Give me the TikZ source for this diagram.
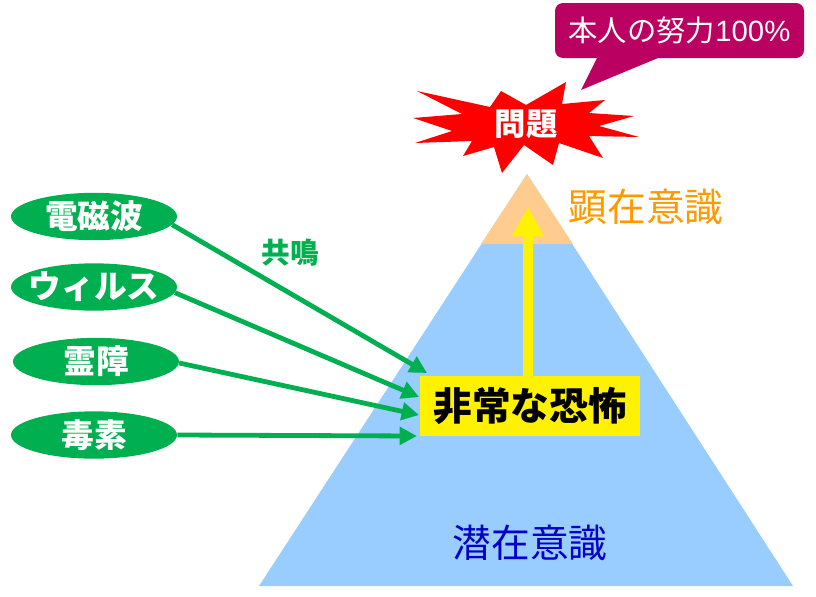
\documentclass[tikz,border=0pt]{standalone}
\usepackage{fontspec}
\setmainfont{Noto Sans CJK JP}
\newfontfamily\latinfont{Liberation Sans}
\usetikzlibrary{arrows.meta, shapes.geometric}

\definecolor{leaf}{HTML}{00B050}
\definecolor{plum}{HTML}{BA0060}
\definecolor{sky}{HTML}{99CCFF}
\definecolor{peach}{HTML}{FFCC8F}
\definecolor{amber}{HTML}{FF9900}
\definecolor{navy}{HTML}{0000C8}

\tikzset{
	cause/.style={ellipse, fill=leaf, text=white, inner sep=-12pt, minimum width=124.5pt, minimum height=35.5pt, font=\fontsize{24.5}{24.5}\selectfont\bfseries},
	link/.style={draw=leaf, line width=3.6pt, -{Triangle[length=13pt, width=13pt]}},
	layer/.style={inner sep=0pt, font=\fontsize{29}{29}\selectfont}
}

\begin{document}
\begin{tikzpicture}[x=0.75pt, y=-0.75pt]
	\useasboundingbox (0, 0) rectangle (816, 596);

	% pyramid
	\fill[sky] (527, 174) -- (793, 586) -- (259, 586) -- cycle;
	\fill[peach] (527, 174) -- (573, 244) -- (481, 244) -- cycle;

	% yellow box and arrow
	\node[fill=yellow, minimum width=165pt, minimum height=45pt, inner sep=0pt, font=\fontsize{29}{29}\selectfont\bfseries] (fear) at (530, 406) {非常な恐怖};
	\coordinate (riseStart) at (528, 376);
	\coordinate (riseEnd) at (528, 207);
	\draw[draw=yellow, line width=7.5pt, -{Triangle[length=22pt, width=22.5pt]}] (riseStart) -- (riseEnd);

	% burst
	\fill[red] (417, 91) -- (490, 107) -- (501, 91) -- (526, 105) -- (566, 82) -- (562, 104)
		-- (605, 100) -- (589, 113) -- (634, 116) -- (599, 126) -- (639, 137) -- (589, 136)
		-- (603, 158) -- (559, 143) -- (553, 165) -- (524, 145) -- (502, 173) -- (494, 147)
		-- (463, 156) -- (472, 141) -- (415, 143) -- (452, 131) -- (413, 118) -- (462, 114) -- cycle;
	\node[inner sep=0pt, text=white, font=\fontsize{23.5}{23.5}\selectfont\bfseries] (problem) at (526, 124) {問題};

	% callout
	\fill[plum] (597, 58) -- (581, 90) -- (658, 58) -- cycle;
	\node[fill=plum, text=white, rounded corners=6pt, minimum width=186.75pt, minimum height=41.25pt, inner sep=0pt, font=\fontsize{22}{22}\selectfont] (effort) at (679.5, 30.5) {本人の努力{\latinfont 100\%}};

	% layer labels
	\node[layer, text=amber] (surface) at (646, 207) {顕在意識};
	\node[layer, text=navy] (deep) at (530, 543) {潜在意識};

	% causes
	\node[cause] (wave) at (94, 216.5) {電磁波};
	\node[cause] (virus) at (94, 287) {ウィルス};
	\node[cause] (spirit) at (96, 361.5) {霊障};
	\node[cause] (poison) at (94, 435) {毒素};

	\coordinate (waveEnd) at (427, 373);
	\coordinate (virusEnd) at (419, 397);
	\coordinate (spiritEnd) at (419, 415);
	\coordinate (poisonEnd) at (417, 436);

	\draw[link] (wave.-6) -- (waveEnd);
	\draw[link] (virus.-4) -- (virusEnd);
	\draw[link] (spirit.-1) -- (spiritEnd);
	\draw[link] (poison.east) -- (poisonEnd);

	\node[inner sep=0pt, text=leaf, font=\fontsize{21.5}{21.5}\selectfont\bfseries] (resonance) at (290, 253) {共鳴};
\end{tikzpicture}
\end{document}
